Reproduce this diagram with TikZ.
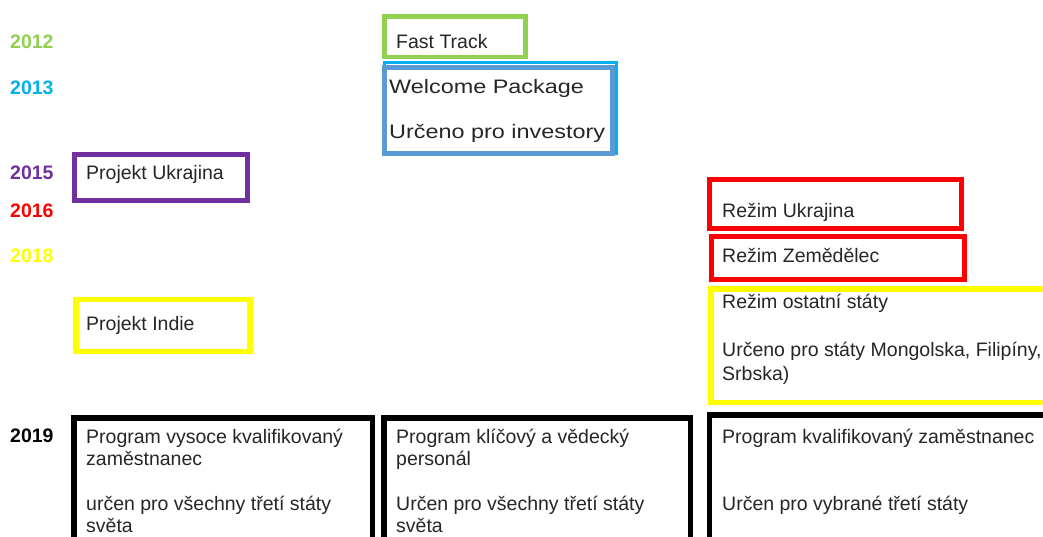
\documentclass[tikz,border=0pt]{standalone}
\usepackage{fontspec}
\setmainfont{Liberation Sans}
\usepackage{graphicx}
\usepackage{xcolor}
\usepackage{tikz}
\usetikzlibrary{positioning}

\definecolor{yrgreen}{HTML}{92D050}
\definecolor{yrcyan}{HTML}{00B0F0}
\definecolor{yrblue}{HTML}{5B9BD5}
\definecolor{yrpurple}{HTML}{7030A0}
\definecolor{yrred}{HTML}{FF0000}
\definecolor{yryellow}{HTML}{FFFF00}

\begin{document}
\begin{tikzpicture}[x=1pt, y=-1pt,
    year/.style={anchor=base west, inner sep=0pt, font=\fontsize{19.5}{23}\selectfont\bfseries},
    txt/.style={anchor=base west, inner sep=0pt, font=\fontsize{19.5}{23}\selectfont, text=black!85},
    frame/.style={line width=5pt}
]
    \clip (0,0) rectangle (1043,537);
    \fill[white] (0,0) rectangle (1043,537);

    % years
    \node[year, text=yrgreen] (y2012) at (10,49) {2012};
    \node[year, text=yrcyan] (y2013) at (10,95) {2013};
    \node[year, text=yrpurple] (y2015) at (10,180) {2015};
    \node[year, text=yrred] (y2016) at (10,218) {2016};
    \node[year, text=yryellow] (y2018) at (10,262.5) {2018};
    \node[year, text=black] (y2019) at (10,442) {2019};

    % boxes
    \draw[frame, line width=4.5pt, yrgreen] (384.5,16.5) rectangle (525.5,57);
    \draw[line width=3pt, yrcyan] (384,63) rectangle (616.8,154);
    \draw[frame, yrblue] (384.8,67.5) rectangle (612.5,153.2);
    \draw[frame, yrpurple] (74,155) rectangle (247,201);
    \draw[frame, yrred] (709,180) rectangle (961.5,229);
    \draw[frame, yrred] (711,237) rectangle (964,279);
    \draw[frame, line width=5.5pt, yryellow] (76,299.5) rectangle (249.8,351.5);
    \draw[frame, line width=5.5pt, yryellow] (711,289) rectangle (1050,402.5);
    \draw[frame, line width=5.5pt] (74,418) rectangle (372.5,545);
    \draw[frame, line width=5.5pt] (384,418) rectangle (690.5,545);
    \draw[frame, line width=5.5pt] (709.7,415) rectangle (1050,545);

    % texts
    \node[txt] (fast) at (396,48.3) {Fast Track};
    \node[txt] (welcome) at (389,94) {\scalebox{1.2}[1]{Welcome Package}};
    \node[txt] (invest) at (389,139) {\scalebox{1.2}[1]{Určeno pro investory}};
    \node[txt] (ukr) at (86,180) {Projekt Ukrajina};
    \node[txt] (rukr) at (722,218) {Režim Ukrajina};
    \node[txt] (rzem) at (722,262.5) {Režim Zemědělec};
    \node[txt] (indie) at (86,330) {Projekt Indie};
    \node[txt] (rost) at (722,308) {Režim ostatní státy};
    \node[txt] (rost2) at (722,356) {Určeno pro státy Mongolska, Filipíny,};
    \node[txt] (rost3) at (722,380) {Srbska)};

    \node[txt] (vk1) at (86,443) {Program vysoce kvalifikovaný};
    \node[txt] (vk2) at (86,465.5) {zaměstnanec};
    \node[txt] (vk3) at (86,510) {určen pro všechny třetí státy};
    \node[txt] (vk4) at (86,532.5) {světa};

    \node[txt] (kv1) at (396,443) {Program klíčový a vědecký};
    \node[txt] (kv2) at (396,465.5) {personál};
    \node[txt] (kv3) at (396,510) {Určen pro všechny třetí státy};
    \node[txt] (kv4) at (396,532.5) {světa};

    \node[txt] (kz1) at (722,443) {Program kvalifikovaný zaměstnanec};
    \node[txt] (kz2) at (722,510) {Určen pro vybrané třetí státy};
\end{tikzpicture}
\end{document}
